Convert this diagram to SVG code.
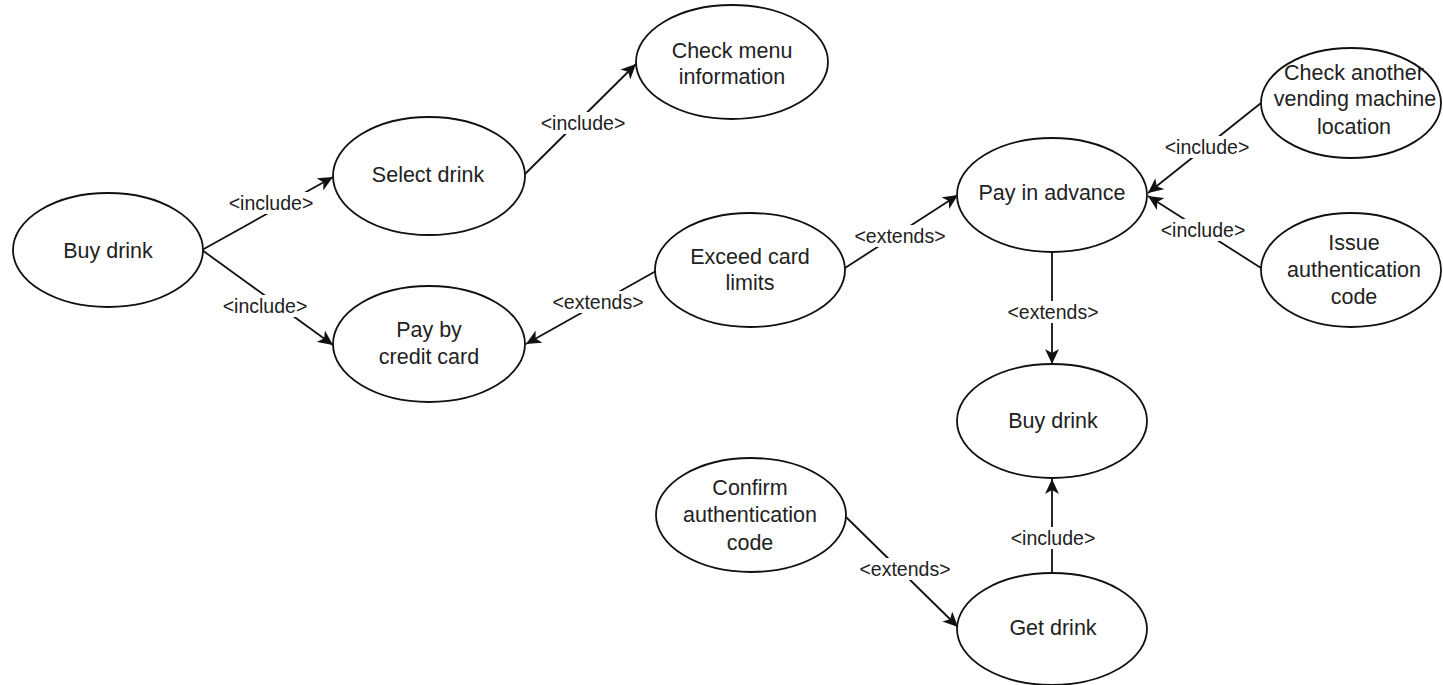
<svg xmlns="http://www.w3.org/2000/svg" width="1443" height="685" viewBox="0 0 1443 685">
<style>
.node ellipse{fill:#fff;stroke:#111;stroke-width:1.8}
.node text{font-family:"Liberation Sans",Arial,sans-serif;font-size:21.5px;fill:#222;text-anchor:middle;dominant-baseline:central}
.edge line{stroke:#111;stroke-width:1.8;marker-end:url(#arr)}
.lbl rect{fill:#fff}
.lbl text{font-family:"Liberation Sans",Arial,sans-serif;font-size:19.5px;fill:#222;text-anchor:middle;dominant-baseline:central}
</style>
<defs>
<marker id="arr" markerUnits="userSpaceOnUse" markerWidth="16" markerHeight="14" refX="15" refY="7" orient="auto">
<path d="M0,0 L15,7 L0,14 L4,7 Z" fill="#111"/>
</marker>
</defs>
<rect width="1443" height="685" fill="#fff"/>
<g id="connectors">
<g class="edge">
<line x1="202" y1="250" x2="333" y2="177"/>
<line x1="202" y1="250" x2="333" y2="345"/>
<line x1="525" y1="174" x2="636" y2="64"/>
<line x1="656" y1="271" x2="526" y2="344"/>
<line x1="845" y1="268" x2="958" y2="195"/>
<line x1="1261" y1="103" x2="1148" y2="193"/>
<line x1="1261" y1="268" x2="1148" y2="196"/>
<line x1="1052" y1="252" x2="1052" y2="364"/>
<line x1="1052" y1="573" x2="1052" y2="479"/>
<line x1="846" y1="517" x2="958" y2="627"/>
</g>
<g class="lbl">
<rect x="226" y="192" width="90" height="22"/><text x="271" y="203">&lt;include&gt;</text>
<rect x="220" y="295" width="90" height="22"/><text x="265" y="306">&lt;include&gt;</text>
<rect x="538" y="112" width="90" height="22"/><text x="583" y="123">&lt;include&gt;</text>
<rect x="549" y="291" width="98" height="22"/><text x="598" y="302">&lt;extends&gt;</text>
<rect x="851" y="225" width="98" height="22"/><text x="900" y="236">&lt;extends&gt;</text>
<rect x="1162" y="136" width="90" height="22"/><text x="1207" y="147">&lt;include&gt;</text>
<rect x="1158" y="219" width="90" height="22"/><text x="1203" y="230">&lt;include&gt;</text>
<rect x="1004" y="301" width="98" height="22"/><text x="1053" y="312">&lt;extends&gt;</text>
<rect x="1008" y="527" width="90" height="22"/><text x="1053" y="538">&lt;include&gt;</text>
<rect x="856" y="558" width="98" height="22"/><text x="905" y="569">&lt;extends&gt;</text>
</g>
</g>
<g id="buy-drink-1" class="node"><ellipse cx="108" cy="250" rx="95" ry="57"/><text x="108" y="251">Buy drink</text></g>
<g id="select-drink" class="node"><ellipse cx="429" cy="176" rx="96" ry="59"/><text x="428" y="175">Select drink</text></g>
<g id="check-menu" class="node"><ellipse cx="732" cy="62" rx="96" ry="57"/><text x="732" y="51">Check menu</text><text x="732" y="77">information</text></g>
<g id="pay-credit" class="node"><ellipse cx="429" cy="344" rx="96" ry="58"/><text x="429" y="330">Pay by</text><text x="429" y="357">credit card</text></g>
<g id="exceed-limits" class="node"><ellipse cx="750" cy="270" rx="95" ry="57"/><text x="750" y="257">Exceed card</text><text x="750" y="283">limits</text></g>
<g id="pay-advance" class="node"><ellipse cx="1052" cy="195" rx="95" ry="57"/><text x="1052" y="193">Pay in advance</text></g>
<g id="check-another" class="node"><ellipse cx="1351" cy="103" rx="90" ry="55"/><text x="1354" y="73">Check another</text><text x="1355" y="99">vending machine</text><text x="1354" y="127">location</text></g>
<g id="issue-code" class="node"><ellipse cx="1351" cy="270" rx="90" ry="57"/><text x="1354" y="243">Issue</text><text x="1354" y="270">authentication</text><text x="1354" y="297">code</text></g>
<g id="buy-drink-2" class="node"><ellipse cx="1052" cy="421" rx="95" ry="57"/><text x="1053" y="421">Buy drink</text></g>
<g id="confirm-code" class="node"><ellipse cx="751" cy="515" rx="95" ry="57"/><text x="750" y="488">Confirm</text><text x="750" y="515">authentication</text><text x="750" y="543">code</text></g>
<g id="get-drink" class="node"><ellipse cx="1052" cy="629" rx="95" ry="56"/><text x="1053" y="628">Get drink</text></g>
</svg>
